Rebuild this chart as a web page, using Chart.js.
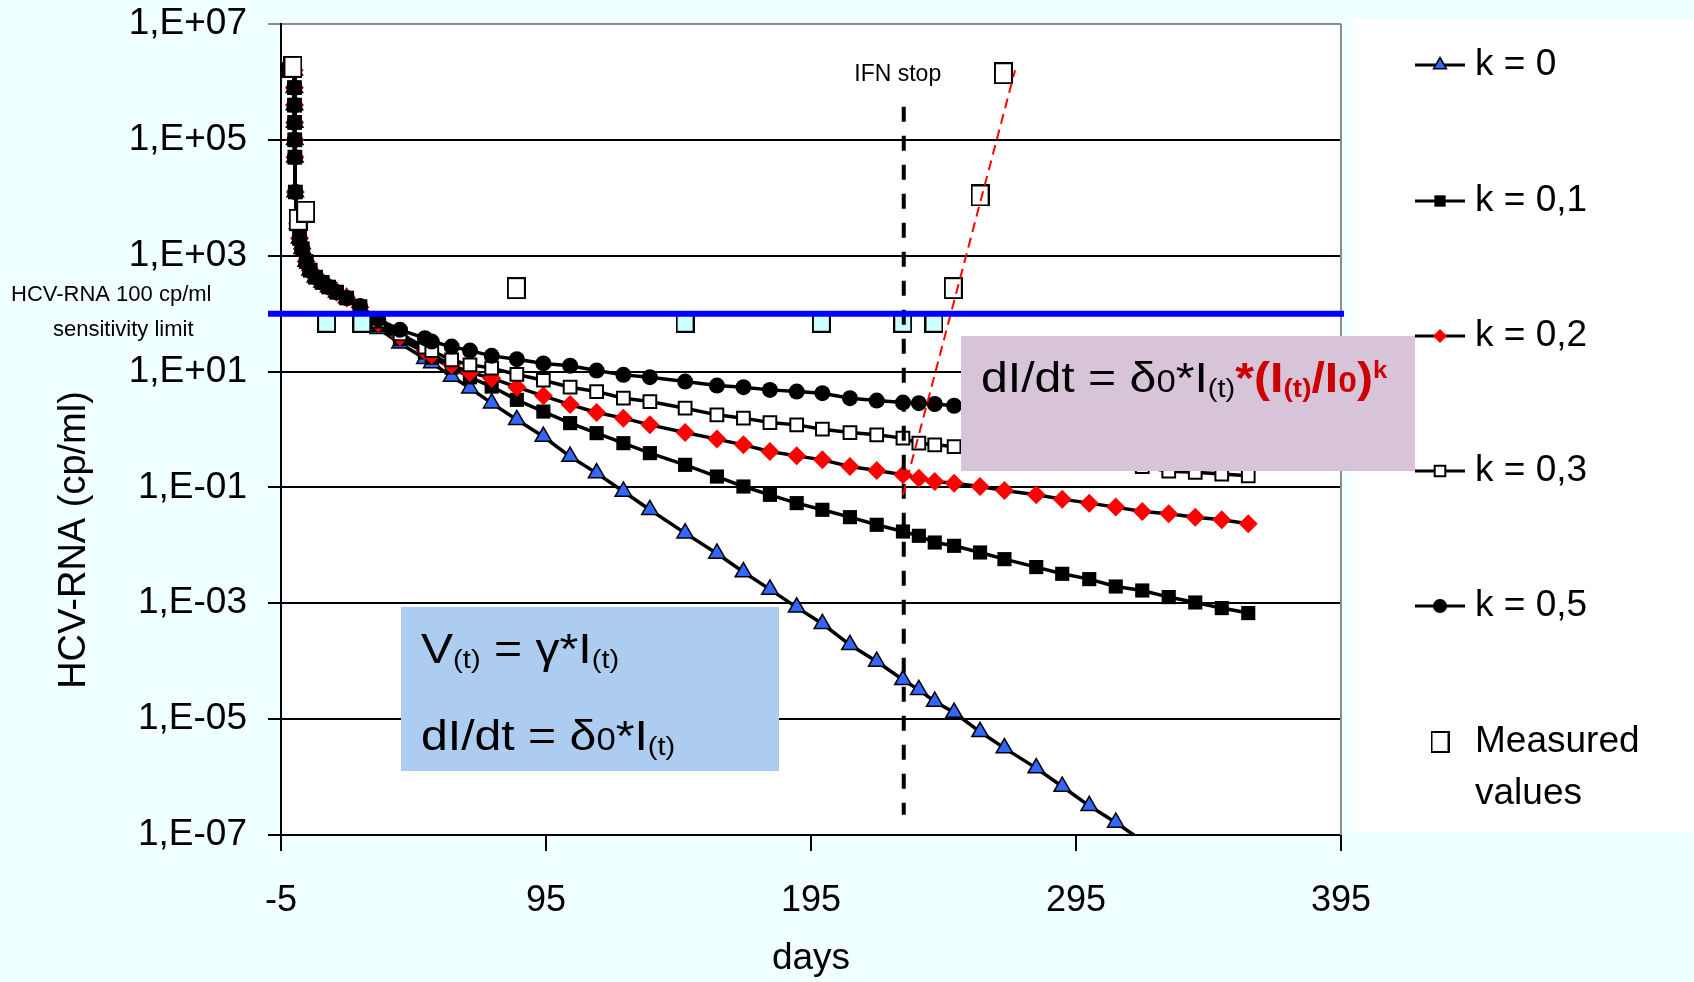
<!DOCTYPE html>
<html>
<head>
<meta charset="utf-8">
<title>HCV-RNA decline under IFN therapy</title>
<script src="https://cdn.jsdelivr.net/npm/chart.js"></script>
<style>
  html, body { margin: 0; padding: 0; background: #f0ffff; }
  #wrap { width: 1694px; height: 982px; }
</style>
</head>
<body>
<div id="wrap"><canvas id="hcvChart" width="1694" height="982"></canvas></div>
<script>
// model time grid (days); the first part is shared by every k
const earlyDays = [-5, 0, 0.05, 0.1, 0.15, 0.2, 0.25, 0.4, 1.2, 2, 3, 4.5, 6, 8, 10.5, 13, 16, 19.8];
const earlyLog  = [6.2, 6.2, 5.9, 5.6, 5.3, 5.0, 4.7, 4.1, 3.55, 3.3, 3.12, 2.9, 2.75, 2.63, 2.54, 2.46, 2.37, 2.27];
const lateDays  = [24.8, 31.7, 39.9, 49.3, 51.9, 59.4, 66.3, 74.5, 84, 94,
                   104.1, 114.1, 124.2, 134.2, 147.5, 159.5, 169.5, 179.5, 189.6, 199.3,
                   209.7, 219.8, 229.7, 235.7, 241.7, 249, 258.8, 268, 280, 289.8,
                   300, 310, 320, 330, 340, 350, 360];

// log10 of HCV-RNA (cp/ml) for each k, on lateDays
const k0Late  = [2.08, 1.74, 1.49, 1.22, 1.15, 0.914, 0.714, 0.455, 0.167, -0.122,
                 -0.467, -0.753, -1.07, -1.386, -1.789, -2.14, -2.46, -2.76, -3.07, -3.354,
                 -3.717, -4.005, -4.321, -4.494, -4.696, -4.886, -5.219, -5.5, -5.845, -6.163,
                 -6.496, -6.784, -7.1, null, null, null, null];
const k01Late = [2.1, 1.8, 1.56, 1.33, 1.24, 1.07, 0.9, 0.741, 0.512, 0.31,
                 0.11, -0.063, -0.236, -0.408, -0.61, -0.812, -0.984, -1.128, -1.271, -1.386,
                 -1.513, -1.645, -1.761, -1.835, -1.951, -2.008, -2.123, -2.238, -2.375, -2.491,
                 -2.583, -2.71, -2.779, -2.893, -2.986, -3.083, -3.169];
const k02Late = [2.11, 1.84, 1.6, 1.36, 1.29, 1.116, 0.983, 0.886, 0.731, 0.581,
                 0.43, 0.293, 0.196, 0.08, -0.053, -0.166, -0.265, -0.381, -0.455, -0.524,
                 -0.639, -0.708, -0.78, -0.84, -0.898, -0.926, -0.984, -1.053, -1.128, -1.202,
                 -1.271, -1.34, -1.416, -1.456, -1.513, -1.559, -1.628];
const k03Late = [2.12, 1.87, 1.65, 1.42, 1.36, 1.2, 1.116, 1.06, 0.95, 0.85,
                 0.73, 0.655, 0.541, 0.482, 0.368, 0.253, 0.196, 0.12, 0.08, 0.006,
                 -0.053, -0.092, -0.149, -0.236, -0.265, -0.294, null, null, null, null,
                 null, null, -0.64, -0.72, -0.74, -0.77, -0.8];
const k05Late = [2.13, 1.9, 1.72, 1.576, 1.518, 1.431, 1.362, 1.271, 1.214, 1.14,
                 1.1, 1.017, 0.943, 0.903, 0.827, 0.758, 0.731, 0.684, 0.655, 0.627,
                 0.541, 0.5, 0.465, 0.455, 0.44, 0.41, null, null, null, null,
                 null, null, null, null, null, null, null];

// patient measurements (log10 cp/ml); below-limit results are shaded
const measDays   = [-0.5, 1.5, 4.3, 12.2, 25.5, 83.8, 147.5, 198.9, 229.6, 241.4, 248.7, 258.8, 267.6];
const measLog    = [6.26, 3.62, 3.76, 1.86, 1.86, 2.44, 1.86, 1.86, 1.86, 1.86, 2.44, 4.04, 6.15];
const belowLimit = [false, false, false, true, true, false, true, true, true, true, false, false, false];

// relapse after stopping interferon
const reboundDays = [229.7, 272];
const reboundLog  = [-1.13, 6.2];
const ifnStopDay  = 230;
const ifnSpanLog  = [5.57, -6.65];
const sensitivityLimit = 100;

const xTickValues = [-5, 95, 195, 295, 395];
const yTickValues = [1e-7, 1e-5, 1e-3, 1e-1, 1e1, 1e3, 1e5, 1e7];
const yTickLabels = ['1,E-07', '1,E-05', '1,E-03', '1,E-01', '1,E+01', '1,E+03', '1,E+05', '1,E+07'];

const FONT = "'Liberation Sans', Arial, Helvetica, sans-serif";
Chart.defaults.font.family = FONT;
Chart.defaults.color = '#000';

function toPoints(days, logs) {
  return days.map((d, i) => ({ x: d, y: logs[i] === null ? null : Math.pow(10, logs[i]) }));
}
const modelDays = earlyDays.concat(lateDays);

function boxMarker(fill) {
  const c = document.createElement('canvas');
  c.width = 19; c.height = 22;
  const g = c.getContext('2d');
  g.fillStyle = fill;
  g.strokeStyle = '#000';
  g.lineWidth = 2;
  g.fillRect(1, 1, 17, 20);
  g.strokeRect(1, 1, 17, 20);
  return c;
}
const measuredBox = boxMarker('#ffffff');
const belowLimitBox = boxMarker('#ccffff');

function curve(label, late, style, order) {
  return Object.assign({
    label: label,
    data: toPoints(modelDays, earlyLog.concat(late)),
    showLine: true,
    borderColor: '#000',
    borderWidth: 3.5,
    pointBorderColor: '#000',
    spanGaps: true,
    order: order
  }, style);
}

// draws a run of text pieces with their own size / offset / colour
function drawRuns(ctx, x, y, sx, runs) {
  ctx.save();
  ctx.translate(x, y);
  ctx.scale(sx, 1);
  let cx = 0;
  for (const r of runs) {
    ctx.font = (r.bold ? 'bold ' : '') + r.size + 'px ' + FONT;
    ctx.fillStyle = r.color || '#000';
    ctx.fillText(r.t, cx, r.dy || 0);
    cx += ctx.measureText(r.t).width;
  }
  ctx.restore();
}

const legendRadius = [7.5, 8, 7, 7.5, 7, 0];

const overlay = {
  id: 'overlay',
  beforeDraw(chart) {
    const { ctx, chartArea: a } = chart;
    ctx.save();
    ctx.fillStyle = '#f0ffff';
    ctx.fillRect(0, 0, chart.width, chart.height);
    ctx.fillStyle = '#ffffff';
    ctx.fillRect(a.left, a.top, a.right - a.left, a.bottom - a.top);
    ctx.fillRect(1353, 19, chart.width - 1353, 813);
    ctx.restore();
  },
  afterDatasetsDraw(chart) {
    const { ctx, chartArea: a, scales } = chart;
    const yy = scales.y.getPixelForValue(sensitivityLimit);
    ctx.save();
    ctx.strokeStyle = '#8c8c8c';
    ctx.lineWidth = 2;
    ctx.beginPath();
    ctx.moveTo(a.right, a.top);
    ctx.lineTo(a.right, a.bottom);
    ctx.stroke();
    ctx.strokeStyle = '#0000ff';
    ctx.lineWidth = 6;
    ctx.beginPath();
    ctx.moveTo(a.left - 13, yy);
    ctx.lineTo(a.right + 3, yy);
    ctx.stroke();
    ctx.restore();
  },
  afterDraw(chart) {
    const { ctx, scales } = chart;
    ctx.save();
    ctx.fillStyle = '#000';

    // y axis title
    ctx.save();
    ctx.translate(75, 540);
    ctx.rotate(-Math.PI / 2);
    ctx.font = '38px ' + FONT;
    ctx.textAlign = 'center';
    ctx.textBaseline = 'middle';
    ctx.fillText('HCV-RNA (cp/ml)', 0, 0);
    ctx.restore();

    ctx.textBaseline = 'alphabetic';
    ctx.textAlign = 'left';
    ctx.font = '22px ' + FONT;
    ctx.fillText('HCV-RNA 100 cp/ml', 11, 301);
    ctx.fillText('sensitivity limit', 53, 336);

    ctx.textAlign = 'center';
    ctx.font = '23px ' + FONT;
    ctx.fillText('IFN stop', scales.x.getPixelForValue(ifnStopDay) - 6, 81);
    ctx.textAlign = 'left';

    // formula boxes
    ctx.fillStyle = '#adcdf0';
    ctx.fillRect(401, 607, 378, 164);
    ctx.fillStyle = '#d8c4d8';
    ctx.fillRect(961, 336, 454, 135);

    const S = 43, sx = 1.12;
    drawRuns(ctx, 421, 663, sx, [
      { t: 'V', size: S }, { t: '(t)', size: 26, dy: 5 },
      { t: ' = \u03b3*I', size: S }, { t: '(t)', size: 26, dy: 5 }
    ]);
    drawRuns(ctx, 421, 750, sx, [
      { t: 'dI/dt = \u03b4', size: S }, { t: '0', size: 31 },
      { t: '*I', size: S }, { t: '(t)', size: 26, dy: 5 }
    ]);
    const red = '#cc0000';
    drawRuns(ctx, 981, 392, sx, [
      { t: 'dI/dt = \u03b4', size: S }, { t: '0', size: 31 },
      { t: '*I', size: S }, { t: '(t)', size: 26, dy: 5 },
      { t: '*(I', size: S, bold: true, color: red },
      { t: '(t)', size: 25, bold: true, color: red, dy: 5 },
      { t: '/I', size: S, bold: true, color: red },
      { t: '0', size: 30, bold: true, color: red },
      { t: ')', size: S, bold: true, color: red },
      { t: 'k', size: 23, bold: true, color: red, dy: -14 }
    ]);

    // legend
    const rows = [65, 201, 336, 471, 606, 742];
    const sets = chart.data.datasets.slice(0, 6);
    sets.forEach((ds, i) => {
      const y = rows[i];
      if (ds.showLine) {
        ctx.strokeStyle = '#000';
        ctx.lineWidth = 3;
        ctx.beginPath();
        ctx.moveTo(1415, y);
        ctx.lineTo(1465, y);
        ctx.stroke();
      }
      const style = Array.isArray(ds.pointStyle) ? measuredBox : ds.pointStyle;
      ctx.fillStyle = ds.pointBackgroundColor || '#fff';
      ctx.strokeStyle = ds.pointBorderColor || '#000';
      ctx.lineWidth = ds.pointBorderWidth || 0;
      Chart.helpers.drawPoint(ctx, {
        pointStyle: style, radius: legendRadius[i], rotation: 0, borderWidth: ds.pointBorderWidth || 0
      }, 1440, y);
      ctx.fillStyle = '#000';
      ctx.textBaseline = 'middle';
      const words = i === 5 ? ds.label.split(' ') : [ds.label];
      ctx.font = '37px ' + FONT;
      words.forEach((w, j) => ctx.fillText(w, 1475, y + j * 52));
    });
    ctx.restore();
  }
};

new Chart(document.getElementById('hcvChart').getContext('2d'), {
  type: 'line',
  data: {
    datasets: [
      curve('k = 0', k0Late, {
        pointStyle: 'triangle',
        pointRadius: (c) => (c.raw && c.raw.y !== null && c.raw.y < 1e-7 ? 0 : 9.5),
        pointBackgroundColor: '#3366ff',
        pointBorderWidth: 1.5
      }, 7),
      curve('k = 0,1', k01Late, {
        pointStyle: 'rect', pointRadius: 10, pointBackgroundColor: '#000', pointBorderWidth: 0
      }, 6),
      curve('k = 0,2', k02Late, {
        pointStyle: 'rectRot', pointRadius: 9.5, pointBackgroundColor: '#ff0000',
        pointBorderColor: '#ff0000', pointBorderWidth: 0
      }, 5),
      curve('k = 0,3', k03Late, {
        pointStyle: 'rect', pointRadius: 9, pointBackgroundColor: '#fff', pointBorderWidth: 2
      }, 4),
      curve('k = 0,5', k05Late, {
        pointStyle: 'circle', pointRadius: 8, pointBackgroundColor: '#000', pointBorderWidth: 0
      }, 3),
      {
        label: 'Measured values',
        data: toPoints(measDays, measLog),
        showLine: false,
        pointStyle: belowLimit.map(b => (b ? belowLimitBox : measuredBox)),
        pointRadius: 10,
        order: 2
      },
      {
        label: 'IFN stop',
        data: toPoints([ifnStopDay, ifnStopDay], ifnSpanLog),
        showLine: true,
        borderColor: '#000',
        borderWidth: 4,
        borderDash: [15, 14],
        pointRadius: 0,
        order: 1
      },
      {
        label: 'relapse',
        data: toPoints(reboundDays, reboundLog),
        showLine: true,
        borderColor: '#ff0000',
        borderWidth: 2,
        borderDash: [10, 6],
        pointRadius: 0,
        order: 0
      }
    ]
  },
  options: {
    responsive: false,
    animation: false,
    layout: { padding: { left: 0, right: 353, top: 24, bottom: 0 } },
    plugins: {
      legend: { display: false },
      tooltip: { enabled: false }
    },
    scales: {
      x: {
        type: 'linear',
        min: -5,
        max: 395,
        afterBuildTicks: (axis) => { axis.ticks = xTickValues.map(v => ({ value: v })); },
        afterFit: (axis) => { axis.height = 147; axis.paddingLeft = 0; axis.paddingRight = 0; },
        grid: { drawOnChartArea: false, drawTicks: true, tickLength: 16, color: '#000', lineWidth: 2 },
        border: { color: '#000', width: 2 },
        ticks: { font: { size: 36 }, padding: 28, maxRotation: 0 },
        title: { display: true, text: 'days', font: { size: 37 }, padding: { top: 0, bottom: 1 } }
      },
      y: {
        type: 'logarithmic',
        min: 1e-7,
        max: 1e7,
        afterBuildTicks: (axis) => { axis.ticks = yTickValues.map(v => ({ value: v })); },
        afterFit: (axis) => { axis.width = 281; axis.paddingTop = 0; axis.paddingBottom = 0; },
        grid: {
          color: (c) => (c.tick && c.tick.value === 1e7 ? '#8c8c8c' : '#000'),
          lineWidth: 2,
          tickLength: 13
        },
        border: { color: '#000', width: 2 },
        ticks: {
          font: { size: 37 },
          padding: 21,
          callback: (v, i) => yTickLabels[i]
        }
      }
    }
  },
  plugins: [overlay]
});
</script>
</body>
</html>
